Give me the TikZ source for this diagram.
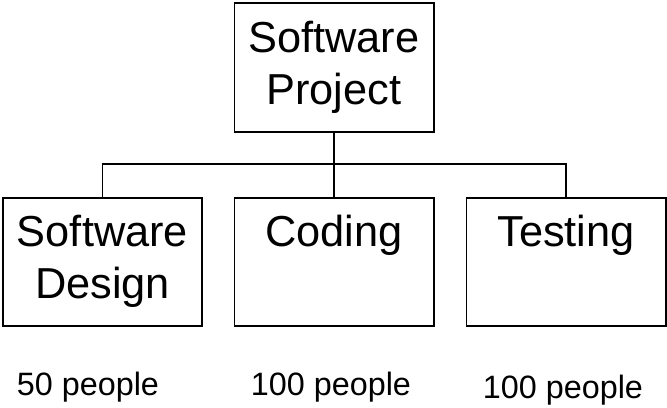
\documentclass[tikz,border=0pt]{standalone}
\usepackage{fontspec}
\setmainfont{Liberation Sans}
\usetikzlibrary{calc,positioning}

\begin{document}
\begin{tikzpicture}[x=0.03cm,y=-0.03cm]

    \tikzstyle{task}=[draw,line width=1.7pt,outer sep=0pt,inner sep=0pt,minimum width=5.97cm,minimum height=3.84cm,align=center,font=\fontsize{37pt}{44pt}\selectfont]
    \tikzstyle{count}=[anchor=base,font=\fontsize{27.6pt}{30pt}\selectfont]
    \tikzstyle{link}=[line width=1.7pt]

    \useasboundingbox (0,0) rectangle (667,407);

    \node (project) [task,minimum height=3.87cm] at (334,67.5) {Software\\Project};

    \node (design) [task] at (102.5,261.5) {Software\\Design};
    \node (coding) [task] at (334,261.5) {Coding\\\phantom{g}};
    \node (testing) [task] at (566,261.5) {Testing\\\phantom{g}};

\coordinate (branch) at (334,164);

\draw [link] (project.south) -- (branch);
\draw [link] (design.north) |- (branch) -| (testing.north);
\draw [link] (branch) -- (coding.north);

    \node (design_count) [count] at (88,395) {50 people};
    \node (coding_count) [count] at (331,395) {100 people};
    \node (testing_count) [count] at (563,398) {100 people};

\end{tikzpicture}
\end{document}
